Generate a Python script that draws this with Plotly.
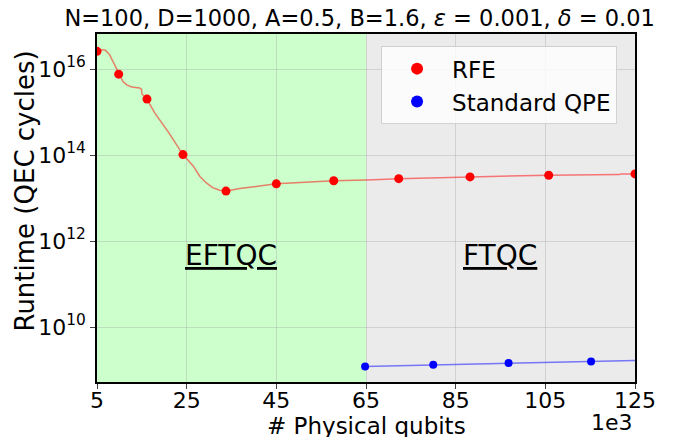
import plotly.graph_objects as go

# ---- data (x in thousands of physical qubits, y = runtime in QEC cycles, log10) ----
rfe_x = [5, 9.84, 16.15, 24.18, 33.77, 45.0, 57.8, 72.3, 88.2, 105.75, 125]
rfe_logy = [16.41, 15.88, 15.30, 14.01, 13.16, 13.33, 13.40, 13.45, 13.49, 13.53, 13.56]

rfe_curve_x = [5, 5.6, 6.34, 6.94, 7.83, 8.5, 8.95, 9.84, 10.8, 11.62, 12.74, 14.52, 14.9,
               15.04, 16.15, 17.87, 21.0, 24.18, 26.5, 27.95, 29.4, 30.8, 32.37, 33.77,
               36.83, 45.0, 57.8, 65.1, 72.3, 88.2, 105.75, 121.5, 121.8, 125]
rfe_curve_logy = [16.41, 16.437, 16.45, 16.43, 16.33, 16.19, 16.06, 15.88, 15.71, 15.63,
                  15.58, 15.56, 15.53, 15.42, 15.30, 14.98, 14.52, 14.01, 13.74, 13.50,
                  13.35, 13.24, 13.18, 13.16, 13.22, 13.33, 13.40, 13.42, 13.45, 13.49,
                  13.53, 13.545, 13.56, 13.56]

qpe_x = [64.8, 80.0, 96.8, 115.2]
qpe_logy = [9.084, 9.12, 9.16, 9.20]
qpe_curve_x = [64.8, 80.0, 96.8, 115.2, 125]
qpe_curve_logy = [9.084, 9.12, 9.16, 9.20, 9.22]

x_ticks = [5, 25, 45, 65, 85, 105, 125]
y_ticks = [1e10, 1e12, 1e14, 1e16]
y_ticktext = ["10<sup>10</sup>", "10<sup>12</sup>", "10<sup>14</sup>", "10<sup>16</sup>"]

regions = [(5, 65, "#ccffcc", "EFTQC"), (65, 125, "#ebebeb", "FTQC")]
label_pos = {"EFTQC": (34.8, 11.67), "FTQC": (94.8, 11.67)}

def p(v):
    return [10 ** t for t in v]

FONT = "DejaVu Sans"
fig = go.Figure()

fig.add_trace(go.Scatter(x=rfe_curve_x, y=p(rfe_curve_logy), mode="lines",
                         line=dict(color="rgba(255,0,0,0.5)", width=1.5),
                         showlegend=False, hoverinfo="skip"))
fig.add_trace(go.Scatter(x=qpe_curve_x, y=p(qpe_curve_logy), mode="lines",
                         line=dict(color="rgba(0,0,255,0.5)", width=1.5),
                         showlegend=False, hoverinfo="skip"))
fig.add_trace(go.Scatter(x=rfe_x, y=p(rfe_logy), mode="markers", name="RFE",
                         marker=dict(color="red", size=9)))
fig.add_trace(go.Scatter(x=qpe_x, y=p(qpe_logy), mode="markers", name="Standard QPE",
                         marker=dict(color="blue", size=8)))

for x0, x1, col, lab in regions:
    fig.add_shape(type="rect", x0=x0, x1=x1, y0=0, y1=1, xref="x", yref="paper",
                  fillcolor=col, line=dict(width=0), layer="below")
    lx, ly = label_pos[lab]
    fig.add_annotation(x=lx, y=ly, xref="x", yref="y", text="<u>" + lab + "</u>",
                       showarrow=False, font=dict(family=FONT, size=28, color="black"))

# axis titles and offset text as annotations (fixed positions)
fig.add_annotation(x=0.5, y=-0.125, xref="paper", yref="paper", text="# Physical qubits",
                   showarrow=False, xanchor="center", yanchor="middle",
                   font=dict(family=FONT, size=23, color="black"))
fig.add_annotation(x=-0.134, y=0.55, xref="paper", yref="paper", text="Runtime (QEC cycles)",
                   showarrow=False, xanchor="center", yanchor="middle", textangle=-90,
                   font=dict(family=FONT, size=26, color="black"))
fig.add_annotation(x=1.0, y=-0.115, xref="paper", yref="paper", text="1e3",
                   showarrow=False, xanchor="right", yanchor="middle",
                   font=dict(family=FONT, size=22, color="black"))

grid = "rgba(160,160,160,0.35)"
fig.update_layout(
    width=676, height=437,
    margin=dict(l=97, r=41, t=34, b=55, autoexpand=False),
    paper_bgcolor="white", plot_bgcolor="white",
    font=dict(family=FONT, color="black"),
    title=dict(text="N=100, D=1000, A=0.5, B=1.6, <i>ε</i> = 0.001, <i>δ</i> = 0.01",
               x=0.532, xanchor="center", y=0.958, yanchor="middle",
               font=dict(family=FONT, size=22.5, color="black")),
    legend=dict(x=0.528, y=0.965, xanchor="left", yanchor="top",
                bgcolor="rgba(255,255,255,0.8)", bordercolor="rgba(200,200,200,0.8)",
                borderwidth=1, font=dict(family=FONT, size=23, color="black"),
                itemsizing="constant", itemwidth=60, tracegroupgap=0),
    xaxis=dict(range=[5, 125], tickvals=x_ticks, ticks="outside", ticklen=5,
               automargin=False, ticklabelstandoff=-7,
               showline=True, linecolor="black", linewidth=1.5, mirror=True,
               showgrid=True, gridcolor=grid, gridwidth=1, zeroline=False,
               tickfont=dict(family=FONT, size=22, color="black")),
    yaxis=dict(type="log", range=[8.721, 16.814], tickvals=y_ticks, ticktext=y_ticktext,
               ticks="outside", ticklen=5, automargin=False,
               showline=True, linecolor="black", linewidth=1.5, mirror=True,
               showgrid=True, gridcolor=grid, gridwidth=1, zeroline=False,
               tickfont=dict(family=FONT, size=22, color="black")),
)

fig.write_html("out.html")
